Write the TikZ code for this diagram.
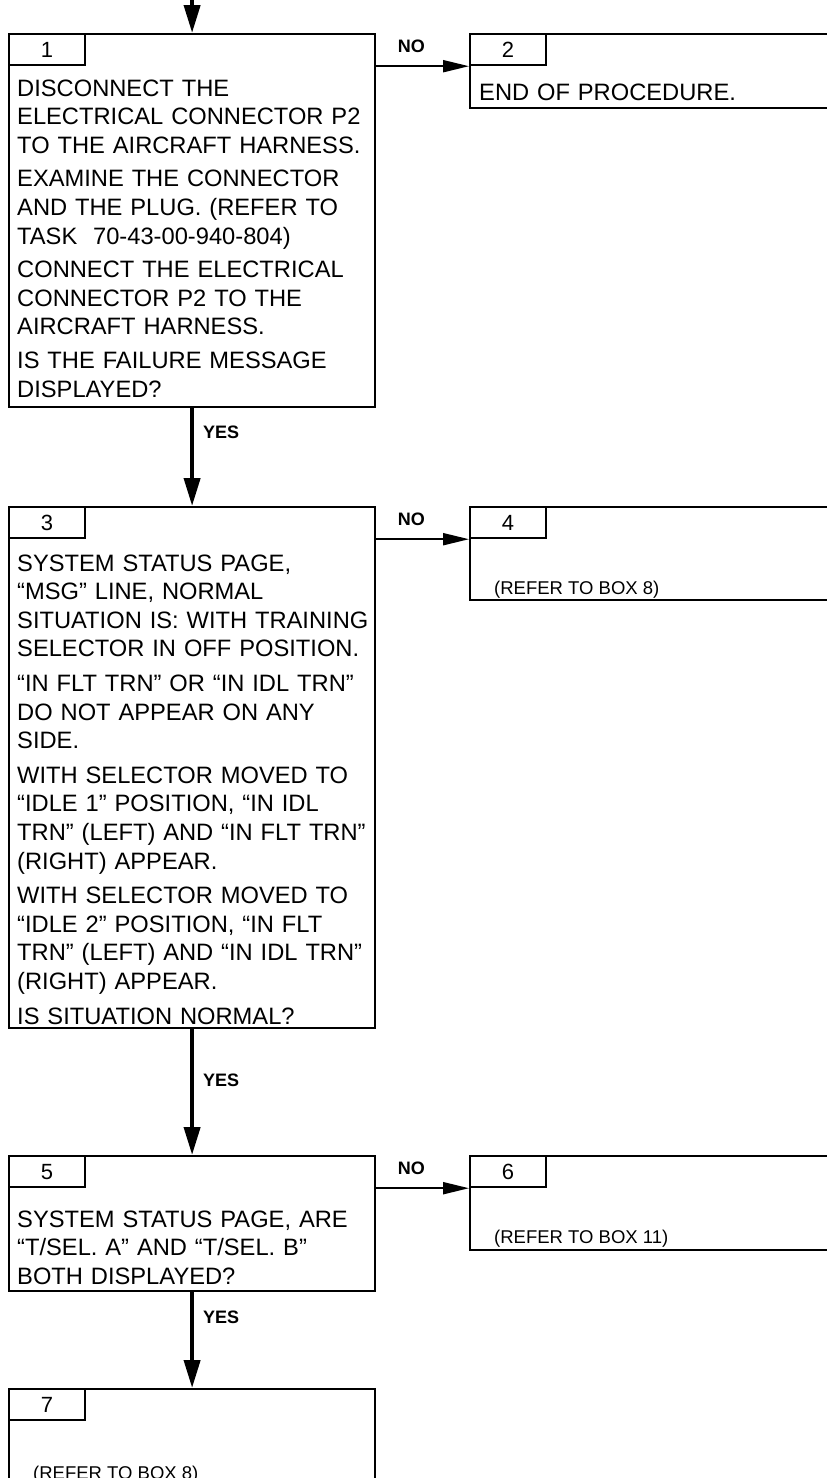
\documentclass[tikz,border=0pt]{standalone}
\usepackage{fontspec}
\setmainfont{Liberation Sans}
\usetikzlibrary{positioning, arrows.meta}

\begin{document}
\begin{tikzpicture}[x=1pt, y=-1pt, >={Triangle[length=28pt, width=16pt]},
    box/.style={draw, line width=2.2pt, inner sep=0pt, anchor=north west},
    tab/.style={draw, line width=2.2pt, minimum width=76pt, minimum height=31pt,
      inner sep=0pt, anchor=north west, font=\fontsize{22}{26}\selectfont},
    body/.style={anchor=base west, inner sep=0pt, text width=440pt, align=left,
      font=\fontsize{23.7}{28.6}\selectfont},
    note/.style={anchor=base west, inner sep=0pt, font=\fontsize{18.5}{22}\selectfont},
    lbl/.style={inner sep=0pt, font=\bfseries\fontsize{18}{22}\selectfont},
    yes/.style={->, line width=4pt},
    no/.style={-{Triangle[length=26pt, width=12pt]}, line width=2pt}]
        \useasboundingbox (0,0) rectangle (827,1478);
        \clip (0,0) rectangle (827,1478);
        % Left column of boxes
        \node[box, minimum width=366pt, minimum height=373pt] (b1) at (8,33) {};
        \node[box, minimum width=366pt, minimum height=521pt] (b3) at (8,506) {};
        \node[box, minimum width=366pt, minimum height=135pt] (b5) at (8,1155) {};
        \node[box, minimum width=366pt, minimum height=140pt] (b7) at (8,1388) {};
        % Right column of boxes (cut at the page edge)
        \node[box, minimum width=400pt, minimum height=74pt] (b2) at (469,33) {};
        \node[box, minimum width=400pt, minimum height=93pt] (b4) at (469,506) {};
        \node[box, minimum width=400pt, minimum height=94pt] (b6) at (469,1155) {};
        % Number tabs
        \foreach \bx/\num in {b1/1, b2/2, b3/3, b4/4, b5/5, b6/6, b7/7} {
          \node[tab] (t\num) at (\bx.north west) {\num};
        }
        % Box texts
        \node[body] (x1) at (17,96) {DISCONNECT THE\\ELECTRICAL CONNECTOR P2\\TO THE AIRCRAFT HARNESS.\\[5pt]EXAMINE THE CONNECTOR\\AND THE PLUG. (REFER TO\\TASK\ \ 70-43-00-940-804)\\[5pt]CONNECT THE ELECTRICAL\\CONNECTOR P2 TO THE\\AIRCRAFT HARNESS.\\[5pt]IS THE FAILURE MESSAGE\\DISPLAYED?};
        \node[body] (x2) at (479,100) {END OF PROCEDURE.};
        \node[body] (x3) at (17,571) {SYSTEM STATUS PAGE,\\“MSG” LINE, NORMAL\\SITUATION IS: WITH TRAINING\\SELECTOR IN OFF POSITION.\\[6pt]“IN FLT TRN” OR “IN IDL TRN”\\DO NOT APPEAR ON ANY\\SIDE.\\[6pt]WITH SELECTOR MOVED TO\\“IDLE 1” POSITION, “IN IDL\\TRN” (LEFT) AND “IN FLT TRN”\\(RIGHT) APPEAR.\\[6pt]WITH SELECTOR MOVED TO\\“IDLE 2” POSITION, “IN FLT\\TRN” (LEFT) AND “IN IDL TRN”\\(RIGHT) APPEAR.\\[6pt]IS SITUATION NORMAL?};
        \node[note] (x4) at (494,594) {(REFER TO BOX 8)};
        \node[body] (x5) at (17,1227) {SYSTEM STATUS PAGE, ARE\\“T/SEL. A” AND “T/SEL. B”\\BOTH DISPLAYED?};
        \node[note] (x6) at (494,1243) {(REFER TO BOX 11)};
        \node[note] (x7) at (33,1479) {(REFER TO BOX 8)};
        % YES arrows down the left column
        \coordinate[above=40pt of b1.north] (entry);
        \draw[yes] (entry) -- (b1.north);
        \draw[yes] (b1.south) -- (b3.north)
          node[lbl, pos=0.25, anchor=west, xshift=9pt] {YES};
        \draw[yes] (b3.south) -- (b5.north)
          node[lbl, pos=0.41, anchor=west, xshift=9pt] {YES};
        \draw[yes] (b5.south) -- (b7.north)
          node[lbl, pos=0.26, anchor=west, xshift=9pt] {YES};
        % NO arrows to the right column
        \foreach \src/\dst/\tb in {b1/b2/t1, b3/b4/t3, b5/b6/t5} {
          \draw[no] (\tb.south -| \src.east) -- (\tb.south -| \dst.west)
            node[lbl, pos=0.38, yshift=20pt] {NO};
        }
\end{tikzpicture}
\end{document}
